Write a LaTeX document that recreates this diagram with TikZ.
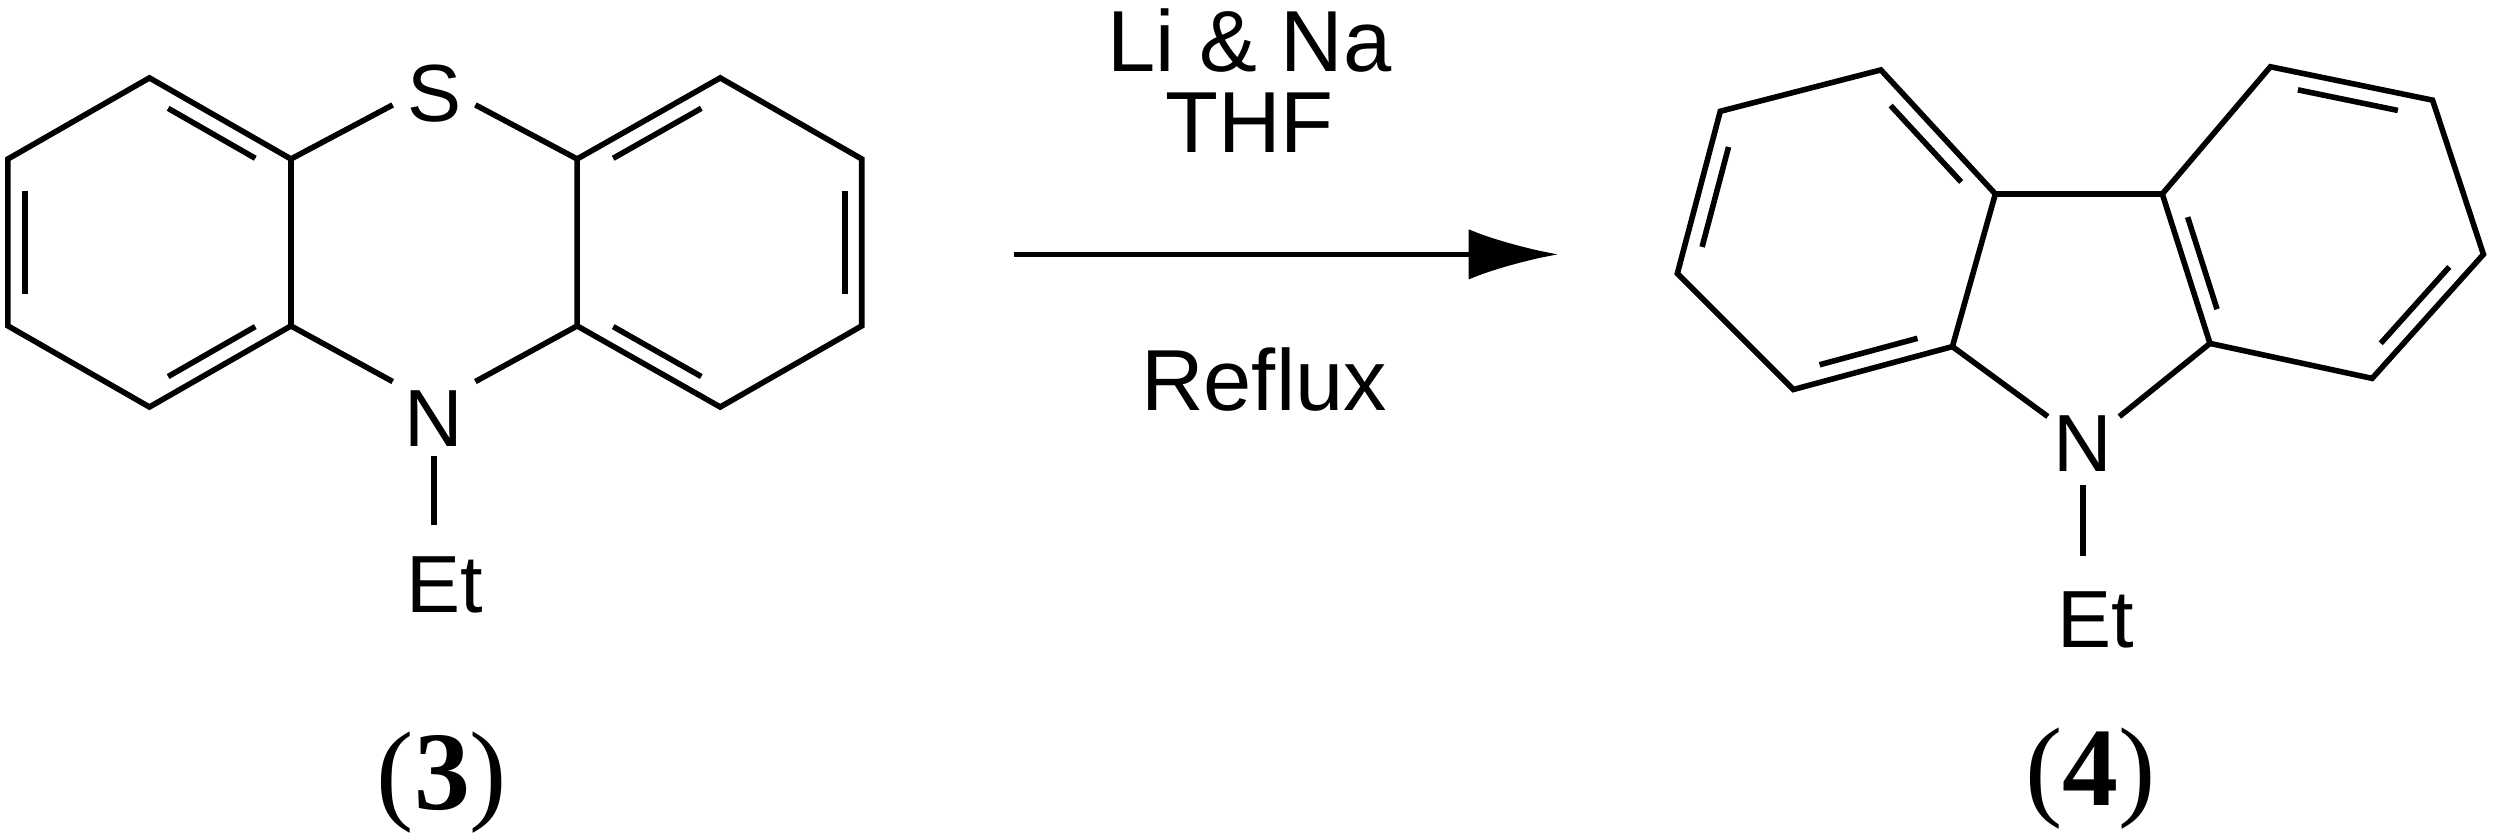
\documentclass[tikz,border=0pt]{standalone}
\usepackage{fontspec}
\setmainfont{Liberation Sans}
\newfontfamily\serf{Liberation Serif}
\usetikzlibrary{calc,arrows.meta}
\begin{document}
\begin{tikzpicture}[x=0.01cm,y=-0.01cm,line width=1pt,
  lab/.style={inner sep=0pt,font=\fontsize{14.5}{16}\selectfont},
  rea/.style={inner sep=0pt,anchor=base,font=\fontsize{15.5}{17}\selectfont},
  cpd/.style={inner sep=0pt,font=\serf\fontsize{20}{22}\selectfont}]
\useasboundingbox (0,0) rectangle (1568,525);
\newcommand\dbl[3]{\draw ($(#1)!0.15!(#2)!0.12!(#3)$) -- ($(#2)!0.15!(#1)!0.12!(#3)$);}
% molecule 3
\foreach \n/\p in {a1/{94,49},a2/{183,100},a3/{183,205},a4/{94,256},a5/{5,205},a6/{5,100},
  b1/{363,100},b2/{453,49},b3/{542,100},b4/{542,205},b5/{453,256},b6/{363,205}}
  \coordinate (\n) at (\p);
\coordinate (ac) at (94,152.5); \coordinate (bc) at (453,152.5);
\draw (a1)--(a2)--(a3)--(a4)--(a5)--(a6)--cycle;
\draw (b1)--(b2)--(b3)--(b4)--(b5)--(b6)--cycle;
\dbl{a1}{a2}{ac}\dbl{a5}{a6}{ac}\dbl{a3}{a4}{ac}
\dbl{b1}{b2}{bc}\dbl{b3}{b4}{bc}\dbl{b5}{b6}{bc}
\node[lab] (S) at (273,59) {S};
\node[lab] (N1) at (273,263) {N};
\node[lab] (Et1) at (280,368) {Et};
\draw (a2)--(247,66); \draw (b1)--(299,66);
\draw (a3)--(247,240); \draw (b6)--(299,240);
\draw (273,287)--(273,330);
\node[cpd] (c3) at (278,492) {(\textbf{3})};
% arrow
\coordinate (ar1) at (638,160); \coordinate (ar2) at (980,160);
\draw[-{Latex[length=16pt,width=9pt]}] (ar1)--(ar2);
\node[rea] (r1) at (786,45) {Li \& Na};
\node[rea] (r2) at (786,96) {THF};
\node[rea] (r3) at (795,258) {Reflux};
% molecule 4
\foreach \n/\p in {c1/{1082,70},c2/{1183,44},c3/{1255,122},c4/{1228,218},c5/{1128,245},c6/{1055,172},
  d1/{1360,122},d2/{1428,42},d3/{1530,63},d4/{1562,160},d5/{1492,238},d6/{1390,216}}
  \coordinate (\n) at (\p);
\coordinate (cc) at (1155,145); \coordinate (dc) at (1460,140);
\draw (c1)--(c2)--(c3)--(c4)--(c5)--(c6)--cycle;
\draw (d1)--(d2)--(d3)--(d4)--(d5)--(d6)--cycle;
\draw (c3)--(d1);
\dbl{c1}{c6}{cc}\dbl{c2}{c3}{cc}\dbl{c4}{c5}{cc}
\dbl{d1}{d6}{dc}\dbl{d2}{d3}{dc}\dbl{d4}{d5}{dc}
\node[lab] (N2) at (1310,279) {N};
\node[lab] (Et2) at (1318,390) {Et};
\draw (c4)--(1288,262); \draw (d6)--(1333,262);
\draw (1310,305)--(1310,350);
\node[cpd] (c4l) at (1315,490) {(\textbf{4})};
\end{tikzpicture}
\end{document}
